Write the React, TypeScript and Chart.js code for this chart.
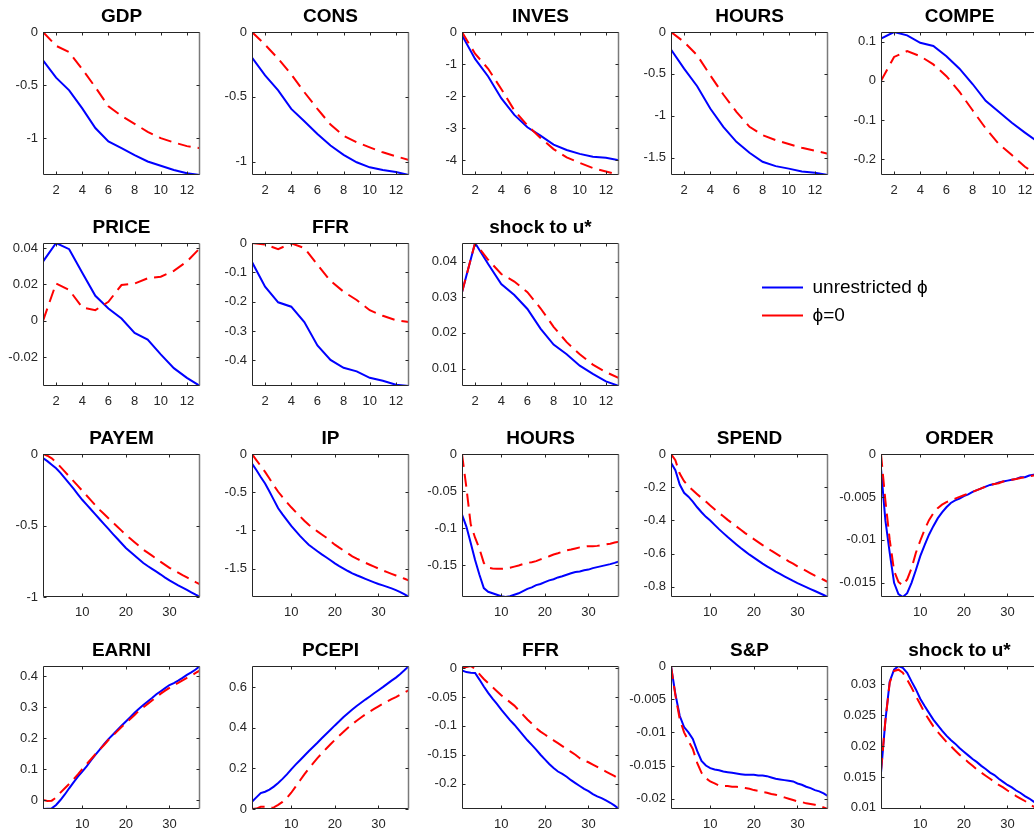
import React, { useEffect, useRef } from 'react';
import { Chart, registerables } from 'chart.js';
Chart.register(...registerables);

const FONT = '"Liberation Sans", Arial, Helvetica, sans-serif';
Chart.defaults.font.family = FONT;

// horizons and x ticks
const SHORT_H = [1, 2, 3, 4, 5, 6, 7, 8, 9, 10, 11, 12, 13];
const LONG_H = [1, 2, 3, 4, 5, 6, 7, 8, 9, 10, 11, 12, 13, 14, 15, 16, 17, 18, 19, 20, 21, 22, 23, 24, 25, 26, 27, 28, 29, 30, 31, 32, 33, 34, 35, 36, 37];
const SHORT_XTICKS = [2, 4, 6, 8, 10, 12];
const LONG_XTICKS = [10, 20, 30];

const LEGEND_LABELS = ['unrestricted \u03d5', '\u03d5=0'];

// ---- top block (13 periods); U = unrestricted phi, R = phi=0
const gdpU = [-0.267, -0.43, -0.55, -0.72, -0.905, -1.03, -1.094, -1.16, -1.22, -1.26, -1.3, -1.33, -1.347];
const gdpR = [0, -0.13, -0.19, -0.35, -0.52, -0.7, -0.79, -0.865, -0.94, -1.0, -1.04, -1.075, -1.095];
const consU = [-0.198, -0.335, -0.45, -0.593, -0.688, -0.786, -0.876, -0.948, -1.005, -1.044, -1.064, -1.08, -1.103];
const consR = [0, -0.098, -0.206, -0.327, -0.464, -0.593, -0.714, -0.8, -0.85, -0.89, -0.928, -0.959, -0.987];
const invesU = [-0.1, -0.84, -1.39, -2.07, -2.59, -2.98, -3.24, -3.52, -3.69, -3.81, -3.9, -3.93, -4.01];
const invesR = [0, -0.68, -1.15, -1.78, -2.45, -2.92, -3.31, -3.66, -3.92, -4.09, -4.25, -4.36, -4.47];
const hoursU = [-0.21, -0.437, -0.647, -0.913, -1.131, -1.31, -1.44, -1.548, -1.6, -1.63, -1.663, -1.679, -1.706];
const hoursR = [0, -0.119, -0.278, -0.516, -0.746, -0.952, -1.131, -1.23, -1.29, -1.337, -1.381, -1.417, -1.452];
const compeU = [0.108, 0.1246, 0.116, 0.097, 0.089, 0.063, 0.031, -0.008, -0.051, -0.079, -0.107, -0.132, -0.156];
const compeR = [0, 0.061, 0.076, 0.063, 0.042, 0.012, -0.028, -0.075, -0.121, -0.161, -0.189, -0.219, -0.24];
const priceU = [0.0326, 0.0428, 0.0394, 0.0265, 0.0138, 0.0068, 0.0013, -0.0066, -0.0103, -0.0184, -0.026, -0.0313, -0.0358];
const priceR = [0, 0.0206, 0.017, 0.0074, 0.0059, 0.0105, 0.0197, 0.0205, 0.0234, 0.0243, 0.0275, 0.0326, 0.04];
const ffrU = [-0.065, -0.149, -0.202, -0.217, -0.269, -0.349, -0.398, -0.425, -0.437, -0.459, -0.469, -0.483, -0.487];
const ffrR = [0, -0.005, -0.021, -0.001, -0.017, -0.074, -0.129, -0.166, -0.194, -0.229, -0.248, -0.263, -0.269];
const shockU = [0.0314, 0.0452, 0.0393, 0.0337, 0.0306, 0.0267, 0.0212, 0.0167, 0.014, 0.0108, 0.0085, 0.0064, 0.0051];
const shockR = [0.0314, 0.0452, 0.0405, 0.0365, 0.0344, 0.0314, 0.0269, 0.0217, 0.0174, 0.014, 0.0111, 0.009, 0.0073];

// ---- bottom block (37 periods)
const payemU = [-0.028, -0.05, -0.075, -0.1, -0.132, -0.168, -0.205, -0.243, -0.282, -0.32, -0.354, -0.388, -0.422, -0.456, -0.49, -0.524, -0.558, -0.591, -0.624, -0.657, -0.684, -0.71, -0.736, -0.762, -0.783, -0.803, -0.823, -0.843, -0.864, -0.884, -0.901, -0.918, -0.934, -0.95, -0.967, -0.984, -1.0];
const payemR = [0, -0.012, -0.03, -0.058, -0.09, -0.123, -0.157, -0.19, -0.223, -0.257, -0.29, -0.324, -0.358, -0.391, -0.42, -0.449, -0.478, -0.507, -0.536, -0.565, -0.591, -0.617, -0.643, -0.669, -0.69, -0.711, -0.732, -0.754, -0.775, -0.796, -0.813, -0.83, -0.847, -0.863, -0.879, -0.896, -0.912];
const ipU = [-0.126, -0.21, -0.3, -0.385, -0.49, -0.6, -0.71, -0.79, -0.865, -0.94, -1.005, -1.07, -1.13, -1.186, -1.23, -1.272, -1.312, -1.35, -1.39, -1.43, -1.465, -1.498, -1.53, -1.56, -1.585, -1.608, -1.632, -1.655, -1.678, -1.7, -1.718, -1.737, -1.758, -1.78, -1.805, -1.835, -1.87];
const ipR = [0, -0.08, -0.157, -0.234, -0.32, -0.41, -0.494, -0.565, -0.632, -0.697, -0.757, -0.815, -0.872, -0.926, -0.97, -1.012, -1.052, -1.092, -1.14, -1.186, -1.225, -1.262, -1.3, -1.338, -1.368, -1.395, -1.422, -1.448, -1.473, -1.498, -1.522, -1.545, -1.567, -1.589, -1.61, -1.632, -1.654];
const hours2U = [-0.0817, -0.098, -0.12, -0.143, -0.163, -0.181, -0.186, -0.188, -0.19, -0.192, -0.193, -0.192, -0.19, -0.188, -0.185, -0.182, -0.18, -0.177, -0.1755, -0.173, -0.1706, -0.169, -0.1666, -0.165, -0.163, -0.161, -0.1594, -0.1585, -0.157, -0.156, -0.154, -0.1527, -0.1513, -0.15, -0.1486, -0.147, -0.145];
const hours2R = [0, -0.045, -0.095, -0.113, -0.128, -0.147, -0.1535, -0.1545, -0.155, -0.155, -0.1545, -0.1536, -0.152, -0.1505, -0.1486, -0.147, -0.146, -0.1446, -0.1423, -0.14, -0.138, -0.1356, -0.134, -0.132, -0.13, -0.129, -0.1275, -0.126, -0.125, -0.1244, -0.1244, -0.124, -0.123, -0.122, -0.121, -0.1195, -0.1185];
const spendU = [-0.052, -0.098, -0.184, -0.234, -0.257, -0.287, -0.321, -0.351, -0.379, -0.401, -0.427, -0.453, -0.477, -0.501, -0.523, -0.545, -0.567, -0.587, -0.607, -0.625, -0.643, -0.661, -0.677, -0.693, -0.709, -0.723, -0.737, -0.751, -0.765, -0.778, -0.79, -0.802, -0.814, -0.826, -0.838, -0.85, -0.862];
const spendR = [0, -0.038, -0.118, -0.164, -0.194, -0.218, -0.242, -0.265, -0.287, -0.311, -0.333, -0.355, -0.375, -0.397, -0.417, -0.437, -0.457, -0.477, -0.495, -0.513, -0.531, -0.549, -0.565, -0.583, -0.599, -0.615, -0.631, -0.647, -0.661, -0.677, -0.691, -0.705, -0.719, -0.733, -0.745, -0.758, -0.772];
const orderU = [-0.0017, -0.0077, -0.0115, -0.015, -0.0163, -0.01665, -0.0162, -0.015, -0.0135, -0.0119, -0.0106, -0.0094, -0.0084, -0.0075, -0.0068, -0.0062, -0.0057, -0.0054, -0.0052, -0.0049, -0.0047, -0.0044, -0.0042, -0.004, -0.0038, -0.0036, -0.0035, -0.0033, -0.0032, -0.0031, -0.003, -0.0029, -0.0027, -0.0027, -0.0025, -0.0024, -0.0023];
const orderR = [0, -0.0054, -0.01, -0.0136, -0.0149, -0.0153, -0.0146, -0.0133, -0.0115, -0.0101, -0.0088, -0.0077, -0.0069, -0.0063, -0.0059, -0.0056, -0.0054, -0.0052, -0.005, -0.0048, -0.0046, -0.0044, -0.0042, -0.004, -0.0038, -0.0036, -0.0035, -0.0034, -0.0032, -0.0031, -0.003, -0.0029, -0.0028, -0.0027, -0.0026, -0.0025, -0.0024];
const earniU = [-0.029, -0.028, -0.027, -0.016, 0, 0.018, 0.038, 0.057, 0.076, 0.092, 0.109, 0.128, 0.146, 0.163, 0.181, 0.197, 0.211, 0.226, 0.24, 0.254, 0.268, 0.282, 0.295, 0.307, 0.319, 0.33, 0.342, 0.352, 0.362, 0.372, 0.378, 0.386, 0.395, 0.405, 0.413, 0.422, 0.4335];
const earniR = [0, -0.003, -0.002, 0.008, 0.024, 0.038, 0.052, 0.067, 0.083, 0.1, 0.116, 0.132, 0.148, 0.163, 0.178, 0.194, 0.208, 0.222, 0.236, 0.249, 0.262, 0.275, 0.289, 0.3, 0.311, 0.322, 0.333, 0.344, 0.354, 0.363, 0.372, 0.379, 0.387, 0.395, 0.402, 0.411, 0.419];
const pcepiU = [0.036, 0.057, 0.078, 0.085, 0.095, 0.11, 0.128, 0.148, 0.17, 0.195, 0.218, 0.24, 0.262, 0.284, 0.305, 0.326, 0.348, 0.369, 0.39, 0.411, 0.431, 0.452, 0.471, 0.489, 0.506, 0.522, 0.538, 0.553, 0.569, 0.584, 0.599, 0.615, 0.631, 0.646, 0.664, 0.683, 0.703];
const pcepiR = [0, 0.002, 0.011, 0.011, 0.005, 0.008, 0.02, 0.035, 0.055, 0.08, 0.11, 0.14, 0.17, 0.198, 0.224, 0.25, 0.273, 0.296, 0.318, 0.34, 0.36, 0.38, 0.399, 0.417, 0.434, 0.45, 0.465, 0.479, 0.492, 0.505, 0.517, 0.529, 0.54, 0.55, 0.562, 0.573, 0.584];
const ffr2U = [-0.004, -0.007, -0.008, -0.0087, -0.02, -0.032, -0.043, -0.053, -0.062, -0.072, -0.081, -0.09, -0.098, -0.107, -0.116, -0.125, -0.133, -0.141, -0.15, -0.158, -0.166, -0.173, -0.179, -0.183, -0.188, -0.194, -0.199, -0.204, -0.209, -0.213, -0.218, -0.222, -0.225, -0.229, -0.233, -0.238, -0.2438];
const ffr2R = [0, 0.0017, 0.0035, -0.0017, -0.0104, -0.019, -0.026, -0.033, -0.04, -0.047, -0.053, -0.059, -0.065, -0.073, -0.081, -0.089, -0.096, -0.104, -0.11, -0.115, -0.12, -0.125, -0.13, -0.135, -0.14, -0.145, -0.15, -0.156, -0.16, -0.163, -0.167, -0.171, -0.175, -0.179, -0.183, -0.187, -0.192];
const spU = [0, -0.0042, -0.0075, -0.0092, -0.01, -0.011, -0.0128, -0.0143, -0.015, -0.0154, -0.0156, -0.0157, -0.0159, -0.016, -0.0161, -0.0162, -0.0163, -0.0164, -0.0164, -0.0164, -0.0165, -0.0165, -0.0166, -0.0168, -0.017, -0.0171, -0.0172, -0.0173, -0.0174, -0.0177, -0.0179, -0.0182, -0.0184, -0.0187, -0.0189, -0.0192, -0.0196];
const spR = [0, -0.0044, -0.008, -0.01, -0.0113, -0.0125, -0.0146, -0.0161, -0.0169, -0.0174, -0.0177, -0.018, -0.0181, -0.0181, -0.0182, -0.0182, -0.0183, -0.0184, -0.0185, -0.0187, -0.0188, -0.019, -0.0191, -0.0193, -0.0194, -0.0196, -0.0198, -0.02, -0.0202, -0.0204, -0.0205, -0.0207, -0.0208, -0.0209, -0.0211, -0.0213, -0.02155];
const shock2U = [0.0157, 0.0241, 0.0305, 0.0324, 0.033, 0.0327, 0.0319, 0.0305, 0.0292, 0.0277, 0.0265, 0.0254, 0.0243, 0.0234, 0.0225, 0.0217, 0.021, 0.0204, 0.0197, 0.0191, 0.0185, 0.0179, 0.0174, 0.0168, 0.0163, 0.0157, 0.0153, 0.0147, 0.0142, 0.0137, 0.0133, 0.0128, 0.0124, 0.0119, 0.0115, 0.011, 0.0106];
const shock2R = [0.016, 0.0241, 0.0303, 0.0322, 0.0324, 0.0319, 0.0308, 0.0295, 0.0281, 0.0268, 0.0254, 0.0243, 0.0232, 0.0223, 0.0215, 0.0207, 0.02, 0.0193, 0.0186, 0.018, 0.0174, 0.0168, 0.0162, 0.0157, 0.0152, 0.0147, 0.0142, 0.0137, 0.0133, 0.0128, 0.0124, 0.0119, 0.0115, 0.0111, 0.0106, 0.0102, 0.0098];

type Panel = {
  title: string;
  h: number[];
  xTicks: number[];
  u: number[];
  r: number[];
  yTicks: number[];
  row: number;
  col: number;
};

const PANELS: Panel[] = [
  { title: 'GDP', h: SHORT_H, xTicks: SHORT_XTICKS, u: gdpU, r: gdpR, yTicks: [-1, -0.5, 0], row: 0, col: 0 },
  { title: 'CONS', h: SHORT_H, xTicks: SHORT_XTICKS, u: consU, r: consR, yTicks: [-1, -0.5, 0], row: 0, col: 1 },
  { title: 'INVES', h: SHORT_H, xTicks: SHORT_XTICKS, u: invesU, r: invesR, yTicks: [-4, -3, -2, -1, 0], row: 0, col: 2 },
  { title: 'HOURS', h: SHORT_H, xTicks: SHORT_XTICKS, u: hoursU, r: hoursR, yTicks: [-1.5, -1, -0.5, 0], row: 0, col: 3 },
  { title: 'COMPE', h: SHORT_H, xTicks: SHORT_XTICKS, u: compeU, r: compeR, yTicks: [-0.2, -0.1, 0, 0.1], row: 0, col: 4 },
  { title: 'PRICE', h: SHORT_H, xTicks: SHORT_XTICKS, u: priceU, r: priceR, yTicks: [-0.02, 0, 0.02, 0.04], row: 1, col: 0 },
  { title: 'FFR', h: SHORT_H, xTicks: SHORT_XTICKS, u: ffrU, r: ffrR, yTicks: [-0.4, -0.3, -0.2, -0.1, 0], row: 1, col: 1 },
  { title: 'shock to u*', h: SHORT_H, xTicks: SHORT_XTICKS, u: shockU, r: shockR, yTicks: [0.01, 0.02, 0.03, 0.04], row: 1, col: 2 },
  { title: 'PAYEM', h: LONG_H, xTicks: LONG_XTICKS, u: payemU, r: payemR, yTicks: [-1, -0.5, 0], row: 2, col: 0 },
  { title: 'IP', h: LONG_H, xTicks: LONG_XTICKS, u: ipU, r: ipR, yTicks: [-1.5, -1, -0.5, 0], row: 2, col: 1 },
  { title: 'HOURS', h: LONG_H, xTicks: LONG_XTICKS, u: hours2U, r: hours2R, yTicks: [-0.15, -0.1, -0.05, 0], row: 2, col: 2 },
  { title: 'SPEND', h: LONG_H, xTicks: LONG_XTICKS, u: spendU, r: spendR, yTicks: [-0.8, -0.6, -0.4, -0.2, 0], row: 2, col: 3 },
  { title: 'ORDER', h: LONG_H, xTicks: LONG_XTICKS, u: orderU, r: orderR, yTicks: [-0.015, -0.01, -0.005, 0], row: 2, col: 4 },
  { title: 'EARNI', h: LONG_H, xTicks: LONG_XTICKS, u: earniU, r: earniR, yTicks: [0, 0.1, 0.2, 0.3, 0.4], row: 3, col: 0 },
  { title: 'PCEPI', h: LONG_H, xTicks: LONG_XTICKS, u: pcepiU, r: pcepiR, yTicks: [0, 0.2, 0.4, 0.6], row: 3, col: 1 },
  { title: 'FFR', h: LONG_H, xTicks: LONG_XTICKS, u: ffr2U, r: ffr2R, yTicks: [-0.2, -0.15, -0.1, -0.05, 0], row: 3, col: 2 },
  { title: 'S&P', h: LONG_H, xTicks: LONG_XTICKS, u: spU, r: spR, yTicks: [-0.02, -0.015, -0.01, -0.005, 0], row: 3, col: 3 },
  { title: 'shock to u*', h: LONG_H, xTicks: LONG_XTICKS, u: shock2U, r: shock2R, yTicks: [0.01, 0.015, 0.02, 0.025, 0.03], row: 3, col: 4 },
];

// layout (px)
const COL_LEFT = [43, 252, 462, 671, 881];
const ROW_TOP = [32, 243, 454, 666];
const PLOT_W = 157;
const PLOT_H = 143;
const AXIS_W = 43;
const TITLE_H = 28;
const XAXIS_H = 24;
const PAD_R = 8;

const BLUE = '#0000ff';
const RED = '#ff0000';
const AXIS_COLOR = '#262626';

const fmt = (v: number) => String(Number(Number(v).toPrecision(6)));

// matlab style box with inward ticks on all four sides
const framePlugin = {
  id: 'matlabFrame',
  afterDraw(chart: any) {
    const { ctx, chartArea: a, scales } = chart;
    const l = Math.round(a.left) + 0.5;
    const t = Math.round(a.top) + 0.5;
    const b = Math.round(a.bottom) - 0.5;
    const r = Math.round(a.right) - 0.5;
    ctx.save();
    ctx.lineWidth = 1;
    ctx.strokeStyle = AXIS_COLOR;
    ctx.beginPath();
    ctx.moveTo(r, b);
    ctx.lineTo(l, b);
    ctx.lineTo(l, t);
    ctx.lineTo(r, t);
    ctx.stroke();
    ctx.strokeStyle = '#7a7a7a';
    ctx.lineWidth = 1.5;
    ctx.beginPath();
    ctx.moveTo(r, t);
    ctx.lineTo(r, b);
    ctx.stroke();
    ctx.strokeStyle = AXIS_COLOR;
    ctx.lineWidth = 1;
    ctx.beginPath();
    scales.x.ticks.forEach((tk: any) => {
      const px = Math.round(scales.x.getPixelForValue(tk.value)) + 0.5;
      ctx.moveTo(px, b);
      ctx.lineTo(px, b - 3);
      ctx.moveTo(px, t);
      ctx.lineTo(px, t + 3);
    });
    scales.y.ticks.forEach((tk: any) => {
      const py = Math.round(scales.y.getPixelForValue(tk.value)) + 0.5;
      ctx.moveTo(l, py);
      ctx.lineTo(l + 3, py);
      ctx.moveTo(r, py);
      ctx.lineTo(r - 3, py);
    });
    ctx.stroke();
    ctx.restore();
  },
};

const PanelChart: React.FC<{ p: Panel }> = ({ p }) => {
  const ref = useRef<HTMLCanvasElement>(null);

  useEffect(() => {
    if (!ref.current) return;
    const lo = Math.min(...p.u, ...p.r);
    const hi = Math.max(...p.u, ...p.r);
    const chart = new Chart(ref.current, {
      type: 'line',
      data: {
        datasets: [
          {
            label: LEGEND_LABELS[1],
            data: p.h.map((x, i) => ({ x, y: p.r[i] })),
            borderColor: RED,
            borderWidth: 2,
            borderDash: [13, 7],
            pointRadius: 0,
            tension: 0,
          },
          {
            label: LEGEND_LABELS[0],
            data: p.h.map((x, i) => ({ x, y: p.u[i] })),
            borderColor: BLUE,
            borderWidth: 2,
            pointRadius: 0,
            tension: 0,
          },
        ],
      },
      options: {
        responsive: false,
        maintainAspectRatio: false,
        animation: false,
        events: [],
        layout: { padding: { left: 0, top: 0, bottom: 0, right: PAD_R } },
        scales: {
          x: {
            type: 'linear',
            min: p.h[0],
            max: p.h[p.h.length - 1],
            afterBuildTicks: (s: any) => {
              s.ticks = p.xTicks.map((v) => ({ value: v }));
            },
            afterFit: (s: any) => {
              s.height = XAXIS_H;
            },
            ticks: {
              autoSkip: false,
              maxRotation: 0,
              padding: 8,
              color: AXIS_COLOR,
              font: { size: 13 },
              callback: (v: any) => fmt(v),
            },
            grid: { display: false, drawTicks: false },
            border: { display: false },
          },
          y: {
            type: 'linear',
            min: lo,
            max: hi,
            afterBuildTicks: (s: any) => {
              s.ticks = p.yTicks.map((v) => ({ value: v }));
            },
            afterFit: (s: any) => {
              s.width = AXIS_W;
            },
            ticks: {
              autoSkip: false,
              padding: 5,
              color: AXIS_COLOR,
              font: { size: 13 },
              callback: (v: any) => fmt(v),
            },
            grid: { display: false, drawTicks: false },
            border: { display: false },
          },
        },
        plugins: {
          legend: { display: false },
          tooltip: { enabled: false },
          title: {
            display: true,
            fullSize: false,
            text: p.title,
            color: '#000',
            font: { size: 19, weight: 'bold', lineHeight: '22px' },
            padding: { top: 2, bottom: 4 },
          },
        },
      },
      plugins: [framePlugin],
    } as any);

    return () => {
      chart.destroy();
    };
  }, [p]);

  return (
    <canvas
      ref={ref}
      width={AXIS_W + PLOT_W + PAD_R}
      height={TITLE_H + PLOT_H + XAXIS_H}
      style={{
        position: 'absolute',
        left: COL_LEFT[p.col] - AXIS_W,
        top: ROW_TOP[p.row] - TITLE_H,
      }}
    />
  );
};

const LegendChart: React.FC = () => {
  const ref = useRef<HTMLCanvasElement>(null);

  useEffect(() => {
    if (!ref.current) return;
    const chart = new Chart(ref.current, {
      type: 'line',
      data: {
        datasets: [
          { label: LEGEND_LABELS[0], data: [], borderColor: BLUE, borderWidth: 2 },
          { label: LEGEND_LABELS[1], data: [], borderColor: RED, borderWidth: 2, borderDash: [14, 7] },
        ],
      },
      options: {
        responsive: false,
        animation: false,
        events: [],
        scales: { x: { display: false }, y: { display: false } },
        plugins: {
          tooltip: { enabled: false },
          legend: {
            position: 'left',
            align: 'start',
            labels: {
              usePointStyle: true,
              pointStyle: 'line',
              pointStyleWidth: 41,
              padding: 9,
              color: '#000',
              font: { size: 19 },
            },
          },
        },
      },
    } as any);
    return () => {
      chart.destroy();
    };
  }, []);

  return (
    <canvas ref={ref} width={420} height={80} style={{ position: 'absolute', left: 753, top: 269 }} />
  );
};

export default function App() {
  return (
    <div
      style={{
        position: 'absolute',
        left: 0,
        top: 0,
        width: 1034,
        height: 833,
        overflow: 'hidden',
        background: '#fff',
      }}
    >
      {PANELS.map((p, i) => (
        <PanelChart key={i} p={p} />
      ))}
      <LegendChart />
    </div>
  );
}
